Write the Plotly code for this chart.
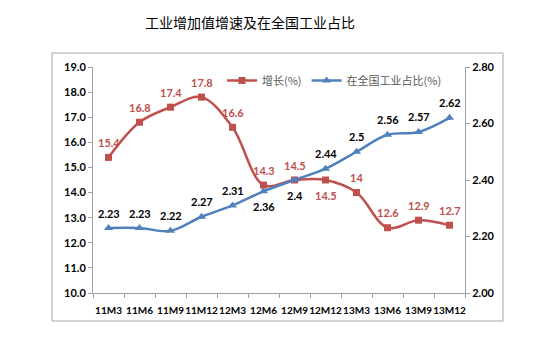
import plotly.graph_objects as go

categories = ["11M3", "11M6", "11M9", "11M12", "12M3", "12M6", "12M9", "12M12", "13M3", "13M6", "13M9", "13M12"]
growth = [15.4, 16.8, 17.4, 17.8, 16.6, 14.3, 14.5, 14.5, 14.0, 12.6, 12.9, 12.7]
share = [2.23, 2.23, 2.22, 2.27, 2.31, 2.36, 2.40, 2.44, 2.50, 2.56, 2.57, 2.62]
growth_labels = ["15.4", "16.8", "17.4", "17.8", "16.6", "14.3", "14.5", "14.5", "14", "12.6", "12.9", "12.7"]
share_labels = ["2.23", "2.23", "2.22", "2.27", "2.31", "2.36", "2.4", "2.44", "2.5", "2.56", "2.57", "2.62"]
growth_pos = [1, 1, 1, 1, 1, 1, 1, -1, 1, 1, 1, 1]
share_pos = [1, 1, 1, 1, 1, -1, -1, 1, 1, 1, 1, 1]

RED = "#C0504D"
BLUE = "#4F81BD"
FONT = "Lato, 'Noto Sans CJK SC', sans-serif"

L, R, T, B = 93, 465, 67, 293
W, H = 548, 347
def px(x):
    return (x - L) / (R - L)
def py(y):
    return (B - y) / (B - T)

fig = go.Figure()
fig.add_trace(go.Scatter(
    x=categories, y=growth, name="增长(%)", mode="lines+markers",
    line=dict(color=RED, width=2.5, shape="spline", smoothing=1.0),
    marker=dict(symbol="square", size=7, color=RED),
    yaxis="y",
))
fig.add_trace(go.Scatter(
    x=categories, y=share, name="在全国工业占比(%)", mode="lines+markers",
    line=dict(color=BLUE, width=2.5, shape="spline", smoothing=1.0),
    marker=dict(symbol="triangle-up", size=8, color=BLUE),
    yaxis="y2",
))

annotations = []
for c, v, t, p in zip(categories, growth, growth_labels, growth_pos):
    annotations.append(dict(x=c, y=v, xref="x", yref="y", text=f"<b>{t}</b>", showarrow=False,
                            yshift=15 * p, font=dict(color=RED, size=11, family=FONT)))
for c, v, t, p in zip(categories, share, share_labels, share_pos):
    annotations.append(dict(x=c, y=v, xref="x", yref="y2", text=f"<b>{t}</b>", showarrow=False,
                            yshift=15 * p, font=dict(color="#000000", size=11, family=FONT)))

annotations.append(dict(x=px(250), y=py(22), xref="paper", yref="paper", xanchor="center",
                        yanchor="middle", text="工业增加值增速及在全国工业占比", showarrow=False,
                        font=dict(size=14, color="#000000", family="'Noto Sans CJK SC', sans-serif")))

fig.update_layout(
    width=W, height=H,
    margin=dict(l=L, r=W - R, t=T, b=H - B),
    paper_bgcolor="white", plot_bgcolor="white",
    showlegend=True,
    legend=dict(orientation="h", x=px(222), y=py(66), xanchor="left", yanchor="top",
                font=dict(size=11, color="#595959", family="'Noto Sans CJK SC', sans-serif"),
                bgcolor="rgba(0,0,0,0)", itemwidth=30, tracegroupgap=0),
    xaxis=dict(type="category", showgrid=False, showline=True, linecolor="#A0A0A0", linewidth=1,
               ticks="outside", ticklen=4, tickcolor="#A0A0A0", tickson="boundaries", tickangle=0,
               ticklabelstandoff=8,
               tickfont=dict(size=10, color="#000000", family=FONT), tickprefix="<b>", ticksuffix="</b>",
               range=[-0.5, 11.5]),
    yaxis=dict(range=[10, 19], dtick=1, tickformat=".1f", showgrid=False, zeroline=False,
               showline=True, linecolor="#A0A0A0", ticks="outside", ticklen=4, tickcolor="#A0A0A0",
               tickfont=dict(size=11, color="#000000", family=FONT), tickprefix="<b>", ticksuffix="</b>"),
    yaxis2=dict(range=[2.0, 2.8], dtick=0.2, tickformat=".2f", overlaying="y", side="right",
                showgrid=False, zeroline=False, showline=True, linecolor="#A0A0A0", ticks="outside",
                ticklen=4, tickcolor="#A0A0A0",
                tickfont=dict(size=11, color="#000000", family=FONT), tickprefix="<b>", ticksuffix="</b>"),
    annotations=annotations,
    shapes=[dict(type="rect", xref="paper", yref="paper", x0=px(52), x1=px(503), y0=py(321), y1=py(53),
                 line=dict(color="#A6A6A6", width=1), layer="below")],
)

fig.write_html("out.html")
